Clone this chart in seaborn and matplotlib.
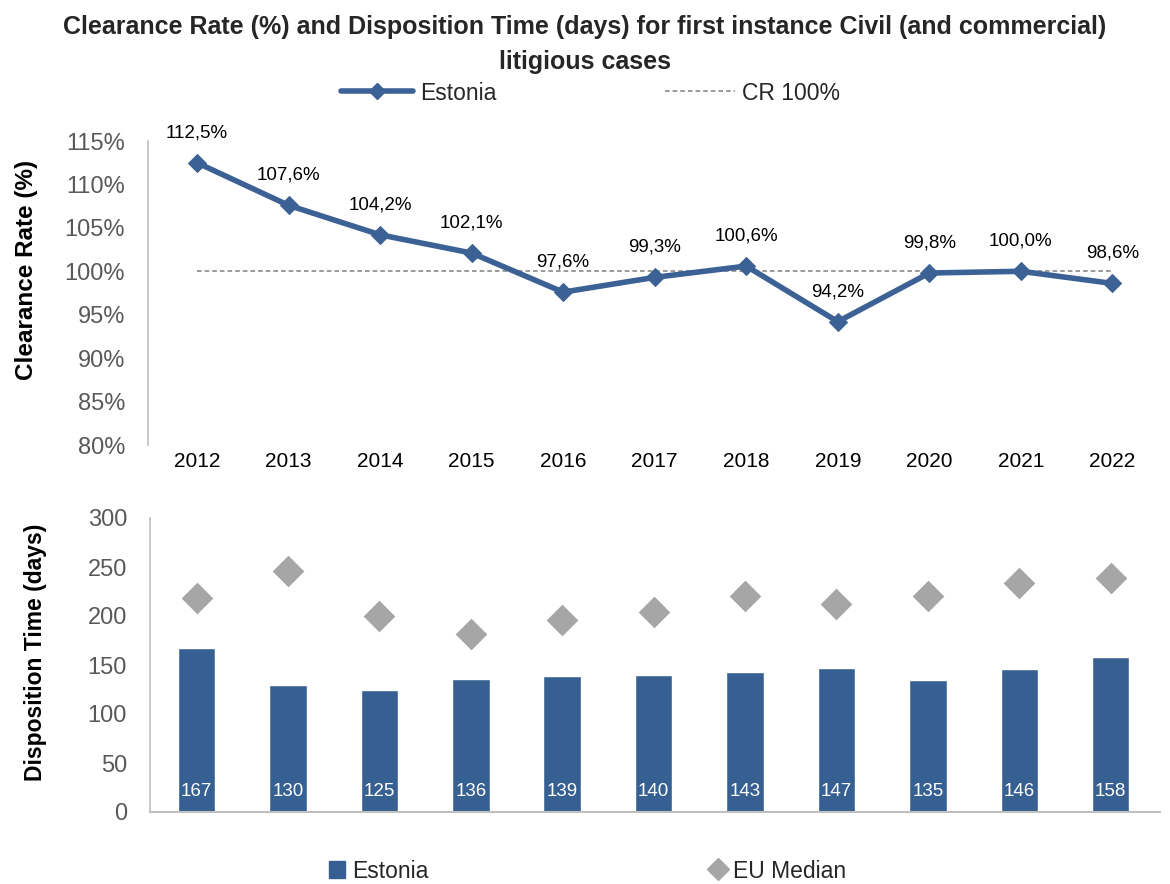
import matplotlib
matplotlib.use("Agg")
import matplotlib.pyplot as plt
import numpy as np
import pandas as pd
import seaborn as sns
from matplotlib.lines import Line2D
from matplotlib.patches import Patch

years = ["2012", "2013", "2014", "2015", "2016", "2017", "2018", "2019", "2020", "2021", "2022"]
clearance_rate = [112.5, 107.6, 104.2, 102.1, 97.6, 99.3, 100.6, 94.2, 99.8, 100.0, 98.6]
cr_labels = ["112,5%", "107,6%", "104,2%", "102,1%", "97,6%", "99,3%", "100,6%", "94,2%", "99,8%", "100,0%", "98,6%"]
cr_reference = 100
disposition_estonia = [167, 130, 125, 136, 139, 140, 143, 147, 135, 146, 158]
disposition_eu_median = [218, 246, 200, 182, 196, 204, 220, 212, 220, 234, 239]
cr_ticks = [80, 85, 90, 95, 100, 105, 110, 115]
dt_ticks = [0, 50, 100, 150, 200, 250, 300]

BLUE = "#376092"
LINE_BLUE = "#3b6195"
GREY_D = "#a6a6a6"
TICK_GREY = "#595959"

sns.set_theme(style="white")
plt.rcParams["font.family"] = ["Liberation Sans", "DejaVu Sans"]

fig = plt.figure(figsize=(11.7, 8.84), dpi=100)
W, H = 1170, 884
ax1 = fig.add_axes([148 / W, 1 - 445 / H, (1160 - 148) / W, (445 - 141) / H])
ax2 = fig.add_axes([150 / W, 1 - 812 / H, (1160 - 150) / W, (812 - 518) / H])

n = len(years)
pos = np.arange(n)
df_cr = pd.DataFrame({"pos": pos, "cr": clearance_rate, "ref": [cr_reference] * n})

# ---- Top: clearance rate
sns.lineplot(data=df_cr, x="pos", y="ref", ax=ax1, color="#7f7f7f", linewidth=1.1,
             linestyle=(0, (3, 2)), zorder=2)
sns.lineplot(data=df_cr, x="pos", y="cr", ax=ax1, color=LINE_BLUE, linewidth=4,
             marker="D", markersize=9, markeredgecolor=LINE_BLUE, zorder=3)
for i, (v, lab) in enumerate(zip(clearance_rate, cr_labels)):
    ax1.annotate(lab, xy=(i, v), xytext=(0, 15.5), textcoords="offset points",
                 ha="center", va="bottom", fontsize=13.5, color="#000000")
ax1.set_ylim(80, 115)
ax1.set_xlim(-0.535, 10.52)
ax1.set_yticks(cr_ticks)
ax1.set_yticklabels([f"{t}%" for t in cr_ticks], fontsize=17, color=TICK_GREY)
ax1.set_xticks(pos)
ax1.set_xticklabels(years, fontsize=15, color="#000000")
ax1.tick_params(axis="x", length=0, pad=5)
ax1.tick_params(axis="y", length=0, pad=16.5)
for s in ["top", "right", "bottom"]:
    ax1.spines[s].set_visible(False)
ax1.spines["left"].set_color("#bfbfbf")
ax1.spines["left"].set_linewidth(1.2)
ax1.set_xlabel("")
ax1.set_ylabel("Clearance Rate (%)", fontsize=17.5, fontweight="bold", color="#000000")
ax1.yaxis.set_label_coords(-0.1087, 0.576)
ax1.grid(False)

# ---- Bottom: disposition time
df_dt = pd.DataFrame({"year": years, "est": disposition_estonia, "eu": disposition_eu_median, "pos": pos})
sns.barplot(data=df_dt, x="year", y="est", ax=ax2, color=BLUE, saturation=1, width=0.41, zorder=2)
sns.scatterplot(data=df_dt, x="pos", y="eu", ax=ax2, color=GREY_D, marker="D", s=260,
                edgecolor=GREY_D, linewidth=0, zorder=3)
for i, v in enumerate(disposition_estonia):
    ax2.annotate(str(v), xy=(i, 0), xytext=(0, 9), textcoords="offset points",
                 ha="center", va="bottom", fontsize=13.5, color="white")
ax2.set_ylim(0, 300)
ax2.set_xlim(-0.51, 10.54)
ax2.set_yticks(dt_ticks)
ax2.set_yticklabels([str(t) for t in dt_ticks], fontsize=17, color=TICK_GREY)
ax2.set_xticks([])
ax2.tick_params(axis="y", length=0, pad=16.5)
for s in ["top", "right"]:
    ax2.spines[s].set_visible(False)
ax2.spines["left"].set_color("#bfbfbf")
ax2.spines["bottom"].set_color("#bfbfbf")
ax2.spines["left"].set_linewidth(1.2)
ax2.spines["bottom"].set_linewidth(1.5)
ax2.set_xlabel("")
ax2.set_ylabel("Disposition Time (days)", fontsize=16.5, fontweight="bold", color="#000000")
ax2.yaxis.set_label_coords(-0.102, 0.544)
ax2.grid(False)

# ---- Title
fig.text(0.5, 1 - 27 / H, "Clearance Rate (%) and Disposition Time (days) for first instance Civil (and commercial)",
         ha="center", va="center", fontsize=18, fontweight="bold")
fig.text(0.5, 1 - 62 / H, "litigious cases", ha="center", va="center", fontsize=18,
         fontweight="bold")

# ---- Legends (each entry anchored at its place)
def entry(handle, label, x_px, y_px, hl, hh=0.7):
    lg = fig.legend([handle], [label], loc="center left", bbox_to_anchor=(x_px / W, 1 - y_px / H),
                    frameon=False, fontsize=16.5, handlelength=hl, handleheight=hh,
                    handletextpad=0.3, borderpad=0, borderaxespad=0)
    return lg

entry(Line2D([], [], color=LINE_BLUE, linewidth=4, marker="D", markersize=8),
      "Estonia", 341, 93, 3.15)
entry(Line2D([], [], color="#7f7f7f", linewidth=1.1, linestyle=(0, (3, 2))),
      "CR 100%", 665, 93, 3.05)
entry(Patch(facecolor=BLUE, edgecolor=BLUE), "Estonia", 329, 871, 0.7, 0.7)
entry(Line2D([], [], color=GREY_D, marker="D", markersize=11, linestyle="none"),
      "EU Median", 709, 871, 0.75)

fig.savefig("out.png", dpi=100)
